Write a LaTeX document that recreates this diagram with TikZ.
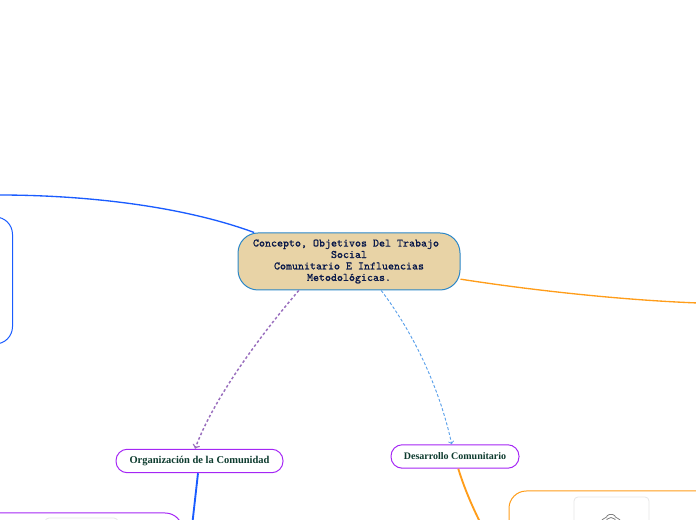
\documentclass[tikz,border=0pt]{standalone}
\usepackage{fontspec}
\setmainfont{Liberation Serif}
\newfontfamily\rootfont[FakeBold=0.6]{Latin Modern Mono}
\definecolor{rootfill}{HTML}{E8D3A6}
\definecolor{rootline}{HTML}{2B87C8}
\definecolor{rootink}{HTML}{0B1A4A}
\definecolor{topicink}{HTML}{0D3B2E}
\definecolor{topicline}{HTML}{A526F5}
\definecolor{linkblue}{HTML}{1A5CFF}
\definecolor{linkorange}{HTML}{FF9D1A}
\definecolor{linkpurple}{HTML}{9A6FBE}
\definecolor{linksky}{HTML}{5AA0EA}
\definecolor{cardline}{HTML}{E6E6E6}
\begin{document}
\begin{tikzpicture}[x = 0.75pt,y = 0.75pt,
root/.style = {draw = rootline, fill = rootfill, line width = 0.75pt, rounded corners = 15pt, inner sep = 0pt, minimum width = 166.5pt, minimum height = 42.75pt, align = center, text = rootink, font = \rootfont\fontsize{8.57}{8.6}\selectfont},
topic/.style = {draw = topicline, fill = white, line width = 0.75pt, rounded corners = 8.5pt, inner sep = 0pt, minimum height = 17.6pt, text = topicink, font = \bfseries\fontsize{7.5}{9}\selectfont},
panel/.style = {draw = #1, line width = 0.75pt, rounded corners = 13pt, inner sep = 0pt},
card/.style = {draw = cardline, line width = 0.6pt, rounded corners = 3pt, inner sep = 0pt}]
\useasboundingbox (0,0) rectangle (696,520);
\clip (0,0) rectangle (696,520);

\node [root] (concepto) at (349,258.5) {Concepto, Objetivos Del Trabajo\hspace*{4.5pt}\\Social\\Comunitario E Influencias\hspace*{4.5pt}\\Metodológicas.};
\node [topic, minimum width = 125.25pt, font = \bfseries\fontsize{7.85}{9}\selectfont] (organizacion) at (199.5,59) {Organización de la Comunidad};
\node [topic, minimum width = 96pt] (desarrollo) at (455,63.5) {Desarrollo Comunitario};

\node [panel = linkblue, minimum width = 150pt, minimum height = 95.25pt] (bluepanel) at (-87.5,239.5) {};
\node [panel = topicline, minimum width = 300pt, minimum height = 120pt] (purplepanel) at (-17.5,-73) {};
\node [panel = linkorange, minimum width = 300pt, minimum height = 150pt] (orangepanel) at (709,-71) {};
\node [card, minimum width = 54.75pt, minimum height = 60pt] (leftcard) at (81.5,-38) {};
\node [card, minimum width = 56.25pt, minimum height = 60pt] (rightcard) at (611.5,-17) {};

\coordinate (leftend) at (-2,325);
\coordinate (rightend) at (698,217);
\coordinate (orgend) at (192.5,-2);
\coordinate (desend) at (480,-2);

\draw [linkblue, line width = 1pt] (concepto.163) .. controls (185,313) and (90,325) .. (leftend);
\draw [linkorange, line width = 1pt] (concepto.-9) .. controls (530,230) and (620,220) .. (rightend);
\draw [linkpurple, line width = 1.1pt, dash pattern = on 2pt off 1.7pt, ->] (concepto.210.2) .. controls (265,190) and (215,125) .. (organizacion.110.6);
\draw [linksky, line width = 0.7pt, dash pattern = on 2.2pt off 1.5pt, ->] (concepto.-42.6) .. controls (415,185) and (440,130) .. (desarrollo.105);
\draw [linkblue, line width = 1.4pt] (organizacion.263) -- (orgend);
\draw [linkorange, line width = 1.4pt] (desarrollo.-75) .. controls (463,36) and (470,18) .. (desend);

\draw [gray, line width = 0.6pt, rounded corners = 1pt] (601,-2) -- (603,1.5) -- (606,2) -- (608,5.5) -- (614,5.5) -- (616,2) -- (619,1.5) -- (621,-2);
\draw [gray, line width = 0.6pt] (611,-3) circle (5.5);
\end{tikzpicture}
\end{document}
